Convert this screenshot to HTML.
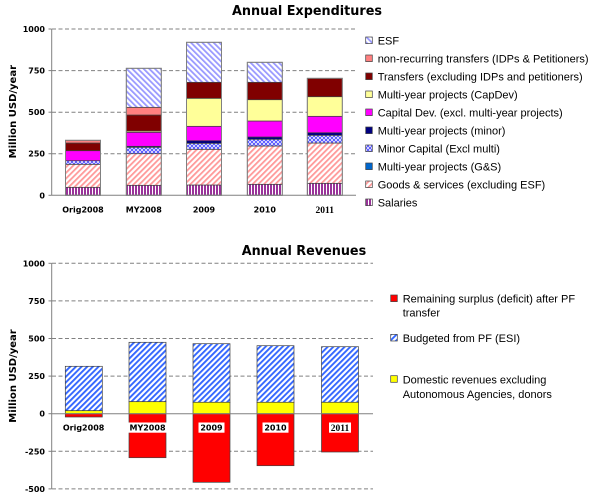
<!DOCTYPE html>
<html>
<head>
<meta charset="utf-8">
<style>
html,body{margin:0;padding:0;background:#fff;}
svg{display:block;}
.ax{font-family:"DejaVu Sans","Liberation Sans",sans-serif;font-weight:bold;font-size:8px;fill:#000;}
.ttl{font-family:"DejaVu Sans","Liberation Sans",sans-serif;font-weight:bold;font-size:13px;fill:#000;}
.yt{font-family:"DejaVu Sans","Liberation Sans",sans-serif;font-weight:bold;font-size:10px;fill:#000;}
.lg{font-family:"Liberation Sans",Arial,sans-serif;font-size:11px;fill:#000;}
.sr{font-family:"Liberation Serif",serif;font-weight:bold;font-size:9.5px;fill:#000;}
</style>
</head>
<body>
<svg width="600" height="504" viewBox="0 0 600 504" xmlns="http://www.w3.org/2000/svg">
<defs>
  <pattern id="esf" width="4" height="4" patternUnits="userSpaceOnUse" patternTransform="rotate(-45)">
    <rect width="4" height="4" fill="#fff"/><rect width="1.8" height="4" fill="#9999ff"/>
  </pattern>
  <pattern id="goods" width="4" height="4" patternUnits="userSpaceOnUse" patternTransform="rotate(45)">
    <rect width="4" height="4" fill="#fff"/><rect width="1.8" height="4" fill="#ff9999"/>
  </pattern>
  <pattern id="pf" width="4" height="4" patternUnits="userSpaceOnUse" patternTransform="rotate(45)">
    <rect width="4" height="4" fill="#fff"/><rect width="1.9" height="4" fill="#3366ff"/>
  </pattern>
  <pattern id="minor" width="4" height="4" patternUnits="userSpaceOnUse">
    <rect width="4" height="4" fill="#fff"/>
    <path d="M0,2 L2,0 L4,2 L2,4 Z" fill="none" stroke="#5555ff" stroke-width="1"/>
  </pattern>
  <pattern id="sal" width="3" height="3" patternUnits="userSpaceOnUse">
    <rect width="3" height="3" fill="#fff"/><rect width="2" height="3" fill="#993399"/>
  </pattern>
</defs>

<!-- ============ TOP CHART ============ -->
<text class="ttl" x="232" y="15" textLength="150" lengthAdjust="spacingAndGlyphs">Annual Expenditures</text>

<g stroke="#808080" stroke-width="1" stroke-dasharray="4,2.5" fill="none">
  <line x1="52" y1="29" x2="356" y2="29"/>
  <line x1="52" y1="70.6" x2="356" y2="70.6"/>
  <line x1="52" y1="112.2" x2="356" y2="112.2"/>
  <line x1="52" y1="153.7" x2="356" y2="153.7"/>
</g>

<!-- bars top -->
<g stroke="#404040" stroke-width="0.7">
  <!-- Orig2008 -->
  <rect x="65.5" y="187.3" width="35" height="8" fill="url(#sal)"/>
  <rect x="65.5" y="164.3" width="35" height="23" fill="url(#goods)"/>
  <rect x="65.5" y="160.7" width="35" height="3.6" fill="url(#minor)"/>
  <rect x="65.5" y="150.7" width="35" height="10" fill="#ff00ff"/>
  <rect x="65.5" y="143" width="35" height="7.7" fill="#800000"/>
  <rect x="65.5" y="140.3" width="35" height="2.7" fill="#ff8080"/>
  <!-- MY2008 -->
  <rect x="126.3" y="185.3" width="35" height="10" fill="url(#sal)"/>
  <rect x="126.3" y="153.7" width="35" height="31.6" fill="url(#goods)"/>
  <rect x="126.3" y="147.3" width="35" height="6.4" fill="url(#minor)"/>
  <rect x="126.3" y="146.3" width="35" height="1" fill="#000080"/>
  <rect x="126.3" y="132.3" width="35" height="14" fill="#ff00ff"/>
  <rect x="126.3" y="131" width="35" height="1.3" fill="#ffff99"/>
  <rect x="126.3" y="115" width="35" height="16" fill="#800000"/>
  <rect x="126.3" y="107.3" width="35" height="7.7" fill="#ff8080"/>
  <rect x="126.3" y="68.3" width="35" height="39" fill="url(#esf)"/>
  <!-- 2009 -->
  <rect x="186.5" y="185" width="35" height="10.3" fill="url(#sal)"/>
  <rect x="186.5" y="149.3" width="35" height="35.7" fill="url(#goods)"/>
  <rect x="186.5" y="143.3" width="35" height="6" fill="url(#minor)"/>
  <rect x="186.5" y="140.7" width="35" height="2.6" fill="#000080"/>
  <rect x="186.5" y="126.3" width="35" height="14.4" fill="#ff00ff"/>
  <rect x="186.5" y="98.3" width="35" height="28" fill="#ffff99"/>
  <rect x="186.5" y="82.3" width="35" height="16" fill="#800000"/>
  <rect x="186.5" y="42.3" width="35" height="40" fill="url(#esf)"/>
  <!-- 2010 -->
  <rect x="247.3" y="184.3" width="35" height="11" fill="url(#sal)"/>
  <rect x="247.3" y="146" width="35" height="38.3" fill="url(#goods)"/>
  <rect x="247.3" y="139.3" width="35" height="6.7" fill="url(#minor)"/>
  <rect x="247.3" y="137" width="35" height="2.3" fill="#000080"/>
  <rect x="247.3" y="121" width="35" height="16" fill="#ff00ff"/>
  <rect x="247.3" y="99.7" width="35" height="21.3" fill="#ffff99"/>
  <rect x="247.3" y="82.3" width="35" height="17.4" fill="#800000"/>
  <rect x="247.3" y="62.3" width="35" height="20" fill="url(#esf)"/>
  <!-- 2011 -->
  <rect x="307.3" y="183.3" width="35" height="12" fill="url(#sal)"/>
  <rect x="307.3" y="143" width="35" height="40.3" fill="url(#goods)"/>
  <rect x="307.3" y="135.3" width="35" height="7.7" fill="url(#minor)"/>
  <rect x="307.3" y="132.7" width="35" height="2.6" fill="#000080"/>
  <rect x="307.3" y="116.3" width="35" height="16.4" fill="#ff00ff"/>
  <rect x="307.3" y="96.7" width="35" height="19.6" fill="#ffff99"/>
  <rect x="307.3" y="78.3" width="35" height="18.4" fill="#800000"/>
</g>
<g fill="none" stroke="#808080" stroke-width="1">
  <rect x="65.5" y="140.3" width="35" height="55"/>
  <rect x="126.3" y="68.3" width="35" height="127"/>
  <rect x="186.5" y="42.3" width="35" height="153"/>
  <rect x="247.3" y="62.3" width="35" height="133"/>
  <rect x="307.3" y="78.3" width="35" height="117"/>
</g>

<!-- axes top -->
<g stroke="#808080" stroke-width="1">
  <line x1="51.7" y1="29" x2="51.7" y2="195.3"/>
  <line x1="51.7" y1="195.3" x2="356" y2="195.3"/>
  <line x1="48.5" y1="29" x2="51.7" y2="29"/>
  <line x1="48.5" y1="70.6" x2="51.7" y2="70.6"/>
  <line x1="48.5" y1="112.2" x2="51.7" y2="112.2"/>
  <line x1="48.5" y1="153.7" x2="51.7" y2="153.7"/>
  <line x1="48.5" y1="195.3" x2="51.7" y2="195.3"/>
</g>
<g class="ax" text-anchor="end">
  <text x="45" y="32">1000</text>
  <text x="45" y="73.6">750</text>
  <text x="45" y="115.2">500</text>
  <text x="45" y="156.7">250</text>
  <text x="45" y="198.3">0</text>
</g>
<text class="yt" text-anchor="middle" transform="translate(16,111.7) rotate(-90)">Million USD/year</text>
<g class="ax" text-anchor="middle">
  <text x="83" y="212.5">Orig2008</text>
  <text x="143.8" y="212.5">MY2008</text>
  <text x="204" y="212.5">2009</text>
  <text x="264.8" y="212.5">2010</text>
</g>
<text class="sr" x="324.8" y="212.8" text-anchor="middle">2011</text>

<!-- legend top -->
<g stroke="#404040" stroke-width="0.7">
  <rect x="365.7" y="37" width="6.6" height="6.6" fill="url(#esf)"/>
  <rect x="365.7" y="55" width="6.6" height="6.6" fill="#ff8080"/>
  <rect x="365.7" y="73" width="6.6" height="6.6" fill="#800000"/>
  <rect x="365.7" y="91" width="6.6" height="6.6" fill="#ffff99"/>
  <rect x="365.7" y="109" width="6.6" height="6.6" fill="#ff00ff"/>
  <rect x="365.7" y="127" width="6.6" height="6.6" fill="#000080"/>
  <rect x="365.7" y="145" width="6.6" height="6.6" fill="url(#minor)"/>
  <rect x="365.7" y="163" width="6.6" height="6.6" fill="#0066cc"/>
  <rect x="365.7" y="181" width="6.6" height="6.6" fill="url(#goods)"/>
  <rect x="365.7" y="199" width="6.6" height="6.6" fill="url(#sal)"/>
</g>
<g class="lg">
  <text x="377.7" y="44.5">ESF</text>
  <text x="377.7" y="62.5">non-recurring transfers (IDPs &amp; Petitioners)</text>
  <text x="377.7" y="80.5">Transfers (excluding IDPs and petitioners)</text>
  <text x="377.7" y="98.5">Multi-year projects (CapDev)</text>
  <text x="377.7" y="116.5">Capital Dev. (excl. multi-year projects)</text>
  <text x="377.7" y="134.5">Multi-year projects (minor)</text>
  <text x="377.7" y="152.5">Minor Capital (Excl multi)</text>
  <text x="377.7" y="170.5">Multi-year projects (G&amp;S)</text>
  <text x="377.7" y="188.5">Goods &amp; services (excluding ESF)</text>
  <text x="377.7" y="206.5">Salaries</text>
</g>

<!-- ============ BOTTOM CHART ============ -->
<text class="ttl" x="241.7" y="255" textLength="124.5" lengthAdjust="spacingAndGlyphs">Annual Revenues</text>

<g stroke="#808080" stroke-width="1" stroke-dasharray="4,2.5" fill="none">
  <line x1="52" y1="263.3" x2="373" y2="263.3"/>
  <line x1="52" y1="300.9" x2="373" y2="300.9"/>
  <line x1="52" y1="338.5" x2="373" y2="338.5"/>
  <line x1="52" y1="376.1" x2="373" y2="376.1"/>
  <line x1="52" y1="451.3" x2="373" y2="451.3"/>
  <line x1="52" y1="488.9" x2="373" y2="488.9"/>
</g>

<g stroke="#404040" stroke-width="0.7">
  <!-- Orig2008 -->
  <rect x="65.3" y="366.3" width="37" height="44.4" fill="url(#pf)"/>
  <rect x="65.3" y="410.7" width="37" height="3" fill="#ffff00"/>
  <rect x="65.3" y="413.7" width="37" height="3.3" fill="#ff0000"/>
  <!-- MY2008 -->
  <rect x="129" y="342.3" width="37" height="59.4" fill="url(#pf)"/>
  <rect x="129" y="401.7" width="37" height="12" fill="#ffff00"/>
  <rect x="129" y="413.7" width="37" height="44" fill="#ff0000"/>
  <!-- 2009 -->
  <rect x="193" y="343.7" width="37" height="58.6" fill="url(#pf)"/>
  <rect x="193" y="402.3" width="37" height="11.4" fill="#ffff00"/>
  <rect x="193" y="413.7" width="37" height="68.6" fill="#ff0000"/>
  <!-- 2010 -->
  <rect x="257" y="345.7" width="37" height="56.6" fill="url(#pf)"/>
  <rect x="257" y="402.3" width="37" height="11.4" fill="#ffff00"/>
  <rect x="257" y="413.7" width="37" height="52" fill="#ff0000"/>
  <!-- 2011 -->
  <rect x="321.5" y="346.7" width="37" height="55.6" fill="url(#pf)"/>
  <rect x="321.5" y="402.3" width="37" height="11.4" fill="#ffff00"/>
  <rect x="321.5" y="413.7" width="37" height="38.3" fill="#ff0000"/>
</g>

<!-- axes bottom -->
<g stroke="#808080" stroke-width="1">
  <line x1="51.7" y1="263.3" x2="51.7" y2="488.9"/>
  <line x1="51.7" y1="413.7" x2="373" y2="413.7"/>
  <line x1="48.5" y1="263.3" x2="51.7" y2="263.3"/>
  <line x1="48.5" y1="300.9" x2="51.7" y2="300.9"/>
  <line x1="48.5" y1="338.5" x2="51.7" y2="338.5"/>
  <line x1="48.5" y1="376.1" x2="51.7" y2="376.1"/>
  <line x1="48.5" y1="413.7" x2="51.7" y2="413.7"/>
  <line x1="48.5" y1="451.3" x2="51.7" y2="451.3"/>
  <line x1="48.5" y1="488.9" x2="51.7" y2="488.9"/>
</g>
<g class="ax" text-anchor="end">
  <text x="45" y="266.3">1000</text>
  <text x="45" y="303.9">750</text>
  <text x="45" y="341.5">500</text>
  <text x="45" y="379.1">250</text>
  <text x="45" y="416.7">0</text>
  <text x="45" y="454.3">-250</text>
  <text x="45" y="491.9">-500</text>
</g>
<text class="yt" text-anchor="middle" transform="translate(16,376) rotate(-90)">Million USD/year</text>

<!-- category labels bottom with white boxes -->
<g fill="#fff">
  <rect x="128.5" y="422.5" width="38.5" height="10.2"/>
  <rect x="198.5" y="422.5" width="26" height="10.2"/>
  <rect x="262.5" y="422.5" width="26" height="10.2"/>
  <rect x="329" y="422.5" width="22" height="10.2"/>
</g>
<g class="ax" text-anchor="middle">
  <text x="83.6" y="430.5">Orig2008</text>
  <text x="147.5" y="430.5">MY2008</text>
  <text x="211.5" y="430.5">2009</text>
  <text x="275.5" y="430.5">2010</text>
</g>
<text class="sr" x="340" y="431" text-anchor="middle">2011</text>

<!-- legend bottom -->
<g stroke="#404040" stroke-width="0.7">
  <rect x="390.7" y="295" width="6.6" height="6.6" fill="#ff0000"/>
  <rect x="390.7" y="334.4" width="6.6" height="6.6" fill="url(#pf)"/>
  <rect x="390.7" y="375.7" width="6.6" height="6.6" fill="#ffff00"/>
</g>
<g class="lg">
  <text x="402.7" y="302.3">Remaining surplus (deficit) after PF</text>
  <text x="402.7" y="316.7">transfer</text>
  <text x="402.7" y="342">Budgeted from PF (ESI)</text>
  <text x="402.7" y="383.5">Domestic revenues excluding</text>
  <text x="402.7" y="397.9">Autonomous Agencies, donors</text>
</g>
</svg>
</body>
</html>
